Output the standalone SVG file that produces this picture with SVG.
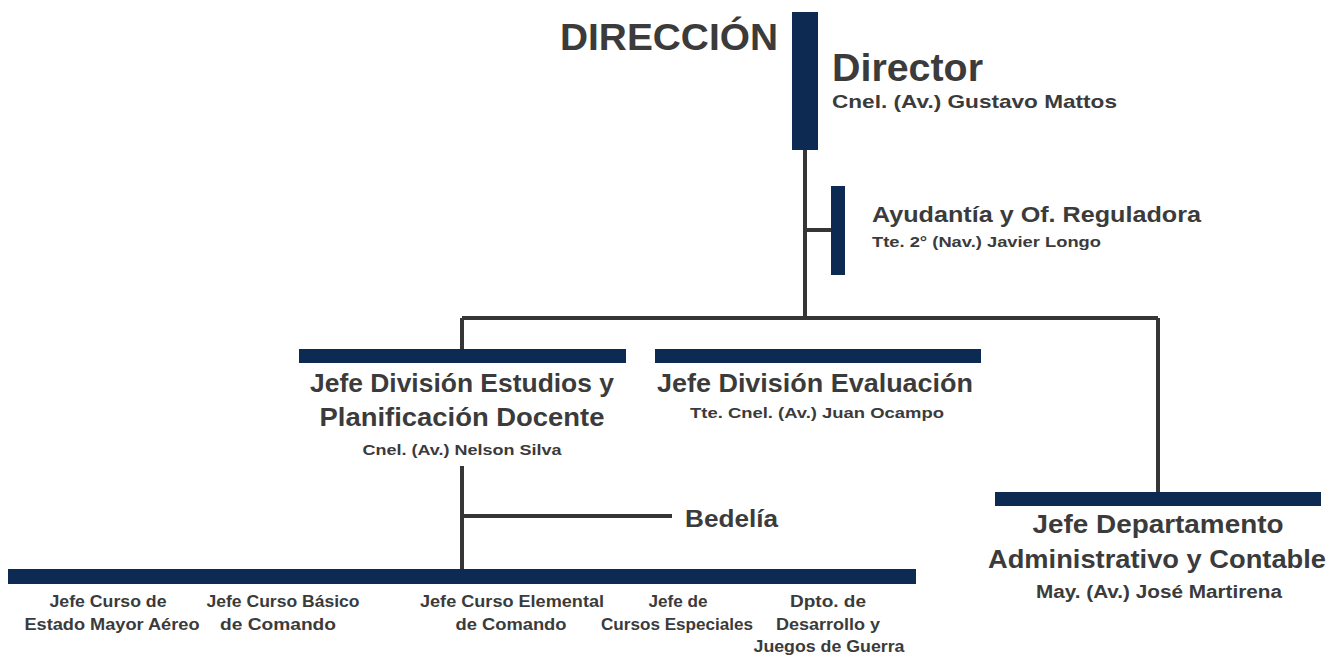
<svg xmlns="http://www.w3.org/2000/svg" width="1341" height="660" viewBox="0 0 1341 660">
<style>
text{font-family:"Liberation Sans",Arial,sans-serif;font-weight:bold;fill:#3b3b3b}
.bar{fill:#0d2a52}
.ln{stroke:#363636;stroke-width:4;fill:none}
.c{text-anchor:middle}
.h2{font-size:25px}
.s{font-size:16px}
.b{font-size:15px}
</style>
<rect width="1341" height="660" fill="#ffffff"/>
<g id="connectors">
<path class="ln" d="M805 150V318M462 318H1158M462 318V349M1158 318V492M805 230H831M462 466V570M462 516H672"/>
</g>
<g id="direccion">
<text x="560" y="50" style="font-size:37px" textLength="218" lengthAdjust="spacingAndGlyphs">DIRECCIÓN</text>
</g>
<g id="director">
<rect class="bar" x="792" y="12" width="26" height="138"/>
<text x="832" y="81" style="font-size:38px" textLength="151" lengthAdjust="spacingAndGlyphs">Director</text>
<text x="832" y="108" style="font-size:19px" textLength="285" lengthAdjust="spacingAndGlyphs">Cnel. (Av.) Gustavo Mattos</text>
</g>
<g id="ayudantia">
<rect class="bar" x="831" y="186" width="14" height="89"/>
<text x="872" y="222" style="font-size:22px" textLength="329" lengthAdjust="spacingAndGlyphs">Ayudantía y Of. Reguladora</text>
<text x="872" y="247" style="font-size:14px" textLength="229" lengthAdjust="spacingAndGlyphs">Tte. 2° (Nav.) Javier Longo</text>
</g>
<g id="estudios">
<rect class="bar" x="299" y="349" width="327" height="14"/>
<text class="h2 c" x="462" y="392" textLength="304" lengthAdjust="spacingAndGlyphs">Jefe División Estudios y</text>
<text class="h2 c" x="462" y="426" textLength="285" lengthAdjust="spacingAndGlyphs">Planificación Docente</text>
<text class="b c" x="462" y="455" textLength="199" lengthAdjust="spacingAndGlyphs">Cnel. (Av.) Nelson Silva</text>
</g>
<g id="evaluacion">
<rect class="bar" x="655" y="349" width="326" height="14"/>
<text class="h2 c" x="815" y="392" textLength="316" lengthAdjust="spacingAndGlyphs">Jefe División Evaluación</text>
<text class="b c" x="817" y="418" textLength="254" lengthAdjust="spacingAndGlyphs">Tte. Cnel. (Av.) Juan Ocampo</text>
</g>
<g id="bedelia">
<text x="685" y="527" style="font-size:23px" textLength="93" lengthAdjust="spacingAndGlyphs">Bedelía</text>
</g>
<g id="administrativo">
<rect class="bar" x="995" y="492" width="326" height="14"/>
<text class="h2 c" x="1158" y="533" textLength="251" lengthAdjust="spacingAndGlyphs">Jefe Departamento</text>
<text class="h2 c" x="1157" y="568" textLength="338" lengthAdjust="spacingAndGlyphs">Administrativo y Contable</text>
<text class="c" x="1159" y="598" style="font-size:18px" textLength="246" lengthAdjust="spacingAndGlyphs">May. (Av.) José Martirena</text>
</g>
<g id="cursos">
<rect class="bar" x="8" y="569" width="908" height="15"/>
</g>
<g id="estado-mayor">
<text class="s c" x="108" y="607" textLength="117" lengthAdjust="spacingAndGlyphs">Jefe Curso de</text>
<text class="s c" x="112" y="630" textLength="175" lengthAdjust="spacingAndGlyphs">Estado Mayor Aéreo</text>
</g>
<g id="basico">
<text class="s c" x="283" y="607" textLength="153" lengthAdjust="spacingAndGlyphs">Jefe Curso Básico</text>
<text class="s c" x="278" y="630" textLength="116" lengthAdjust="spacingAndGlyphs">de Comando</text>
</g>
<g id="elemental">
<text class="s c" x="512" y="607" textLength="184" lengthAdjust="spacingAndGlyphs">Jefe Curso Elemental</text>
<text class="s c" x="511" y="630" textLength="111" lengthAdjust="spacingAndGlyphs">de Comando</text>
</g>
<g id="especiales">
<text class="s c" x="678" y="607" textLength="59" lengthAdjust="spacingAndGlyphs">Jefe de</text>
<text class="s c" x="677" y="630" textLength="152" lengthAdjust="spacingAndGlyphs">Cursos Especiales</text>
</g>
<g id="desarrollo">
<text class="s c" x="828" y="607" textLength="76" lengthAdjust="spacingAndGlyphs">Dpto. de</text>
<text class="s c" x="828" y="630" textLength="104" lengthAdjust="spacingAndGlyphs">Desarrollo y</text>
<text class="s c" x="829" y="652" textLength="151" lengthAdjust="spacingAndGlyphs">Juegos de Guerra</text>
</g>
</svg>
